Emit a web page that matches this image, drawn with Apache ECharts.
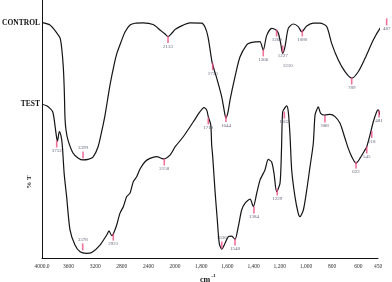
<!DOCTYPE html>
<html><head><meta charset="utf-8">
<script src="https://cdn.jsdelivr.net/npm/echarts@6/dist/echarts.min.js"></script>
<style>html,body{margin:0;padding:0;background:#fff}#c{width:392px;height:282px}</style>
</head><body><div id="c"></div>
<script>
// Wavenumber (cm-1) vs %T (arbitrary offset scale)
const controlHigh = [[4000,91.2],[3880,90.3],[3779,87.3],[3729,85.3],[3704,81.4],[3680,74.1],[3665,65.1],[3654,54.3],[3639,49.6],[3609,45.7],[3534,40.7],[3459,38.8],[3383,38.0],[3308,38.2],[3233,39.1],[3158,43.0],[3098,49.6],[3052,55.4],[2977,67.1],[2917,74.8],[2872,79.5],[2812,83.7],[2752,87.6],[2676,90.3],[2601,91.0],[2481,91.1],[2330,90.5],[2225,88.4],[2150,86.8],[2105,85.8],[2045,87.2],[2000,88.6]];
const controlLow = [[2000,88.6],[1962,89.7],[1885,91.1],[1796,91.0],[1771,89.5],[1748,85.7],[1720,76.7],[1712,74.8],[1682,69.8],[1643,62.4],[1618,55.4],[1611,54.3],[1595,56.6],[1580,61.2],[1542,70.2],[1504,77.9],[1453,82.6],[1427,83.4],[1376,83.8],[1351,83.9],[1326,80.6],[1300,86.2],[1262,89.0],[1229,88.4],[1211,87.1],[1193,83.2],[1178,79.3],[1160,81.9],[1135,89.0],[1097,90.7],[1059,89.7],[1033,87.7],[994,89.9],[944,91.0],[893,91.0],[842,89.7],[804,83.2],[753,76.7],[702,72.2],[651,69.7],[601,72.2],[549,77.4],[486,84.5],[435,89.0],[397,91.2],[371,93.5]];
const testHigh = [[4000,59.6],[3929,59.0],[3880,58.0],[3839,56.7],[3820,54.3],[3800,50.4],[3779,46.5],[3767,45.3],[3740,49.0],[3714,47.3],[3695,43.8],[3680,38.0],[3665,32.2],[3629,23.6],[3579,10.9],[3504,5.0],[3428,2.4],[3328,1.8],[3252,2.1],[3128,5.0],[3027,8.9],[2992,10.5],[2952,8.7],[2928,9.3],[2877,12.8],[2827,17.4],[2777,19.9],[2726,23.8],[2676,25.2],[2627,29.6],[2576,31.5],[2526,34.5],[2451,37.3],[2376,38.6],[2275,39.3],[2176,38.4],[2075,39.9],[2000,43.1]];
const testLow = [[2000,43.1],[1937,47.0],[1860,52.8],[1809,56.7],[1779,58.3],[1758,57.4],[1746,54.8],[1727,51.6],[1720,43.8],[1712,39.3],[1695,26.4],[1677,14.7],[1662,5.7],[1643,3.4],[1618,5.7],[1593,8.3],[1567,8.5],[1542,7.2],[1517,12.1],[1491,18.6],[1466,21.2],[1427,22.8],[1402,19.9],[1376,25.1],[1351,30.2],[1313,34.1],[1288,38.2],[1262,37.2],[1244,32.8],[1224,25.7],[1198,29.0],[1187,41.9],[1178,56.6],[1160,58.3],[1147,59.0],[1135,56.7],[1122,47.7],[1109,34.1],[1084,23.8],[1059,17.3],[1046,16.0],[1020,18.6],[994,26.4],[969,35.4],[944,44.5],[931,55.4],[918,57.4],[906,58.6],[888,56.1],[855,55.4],[817,55.7],[778,54.8],[740,52.2],[702,46.4],[677,42.5],[651,39.3],[618,36.7],[588,38.6],[549,41.9],[536,43.1],[511,47.7],[486,52.8],[460,56.7],[448,57.4],[435,55.4]];
// Peak markers: [position, %T, label]
const controlPeaks = [[3383,39.9,'3399'],[2105,84.7,'2133'],[1712,74.2,'1730'],[1611,54.1,'1644'],[1326,79.5,'1366'],[1224,87.2,'1260'],[1178,81.0,'1227'],[1178,81.0,'1210'],[1028,87.2,'1080'],[651,68.6,'789'],[384,91.5,'487']];
const testPeaks = [[3779,44.2,'3752'],[3388,4.3,'3378'],[2928,8.1,'2921'],[2161,37.2,'2158'],[1746,53.1,'1710'],[1643,5.0,'1636'],[1542,6.2,'1548'],[1397,18.6,'1384'],[1219,25.6,'1229'],[1165,55.4,'1162'],[855,53.9,'888'],[618,36.0,'622'],[536,41.9,'545'],[498,47.9,'518'],[442,55.8,'481']];
const highTicks = [4000,3600,3200,2800,2400,2000];
const lowTicks = [1800,1600,1400,1200,1000,800,600,450];
const seriesNames = ['CONTROL','TEST'];
const yTitle = '% T';

const labelsAbove = ['3399','3378','1636'];
const lineColor = '#141414', pink = '#ee4d80', lblColor = '#3b3b58';
const serif = '"Liberation Serif", "DejaVu Serif", serif';

function peakItems(list, high) {
  return list.filter(p => high ? p[0] >= 2000 : p[0] < 2000).map(p => ({
    value: [p[0], p[1]], name: p[2],
    symbolSize: p[2] === '1210' ? 0 : [1.6, 7],
    label: {position: labelsAbove.includes(p[2]) ? 'top' : 'bottom', offset: p[2] === '1210' ? [5, 13] : [0, 0]}
  }));
}
const allPeaks = controlPeaks.concat(testPeaks);

const chart = echarts.init(document.getElementById('c'), null, {renderer: 'canvas'});
const lineBase = {type: 'line', symbol: 'none', smooth: 0.25, clip: false, lineStyle: {color: lineColor, width: 1.2}, z: 3};
const scatterBase = {type: 'scatter', symbol: 'rect', clip: false, itemStyle: {color: pink}, z: 4,
  label: {show: true, formatter: '{b}', fontSize: 5, color: lblColor, distance: 1, fontFamily: serif}};
chart.setOption({
  animation: false,
  backgroundColor: '#fff',
  grid: [
    {left: 42, top: 0, width: 133, bottom: 24},
    {left: 175, top: 0, width: 203, bottom: 24}
  ],
  xAxis: [
    {type: 'value', gridIndex: 0, min: 2000, max: 4000, interval: 400, inverse: true,
     axisLine: {lineStyle: {color: '#111', width: 1}}, axisTick: {show: false}, splitLine: {show: false},
     axisLabel: {fontSize: 5.5, color: '#333', margin: 6, fontFamily: serif,
       customValues: highTicks,
       formatter: v => v === 4000 ? '4000.0' : String(v)}},
    {type: 'value', gridIndex: 1, min: 450, max: 2000, inverse: true,
     axisLine: {lineStyle: {color: '#111', width: 1}}, axisTick: {show: false}, splitLine: {show: false},
     axisLabel: {fontSize: 5.5, color: '#333', margin: 6, fontFamily: serif, customValues: lowTicks}}
  ],
  yAxis: [
    {type: 'value', gridIndex: 0, min: 0, max: 100, axisLine: {show: true, lineStyle: {color: '#111', width: 1}},
     axisTick: {show: false}, axisLabel: {show: false}, splitLine: {show: false}},
    {type: 'value', gridIndex: 1, min: 0, max: 100, show: false, splitLine: {show: false}}
  ],
  series: [
    Object.assign({}, lineBase, {name: seriesNames[0], xAxisIndex: 0, yAxisIndex: 0, data: controlHigh}),
    Object.assign({}, lineBase, {name: seriesNames[0], xAxisIndex: 1, yAxisIndex: 1, data: controlLow}),
    Object.assign({}, lineBase, {name: seriesNames[1], xAxisIndex: 0, yAxisIndex: 0, data: testHigh}),
    Object.assign({}, lineBase, {name: seriesNames[1], xAxisIndex: 1, yAxisIndex: 1, data: testLow}),
    Object.assign({}, scatterBase, {xAxisIndex: 0, yAxisIndex: 0, data: peakItems(allPeaks, true)}),
    Object.assign({}, scatterBase, {xAxisIndex: 1, yAxisIndex: 1, data: peakItems(allPeaks, false)})
  ],
  graphic: [
    {type: 'text', x: 40, y: 23, style: {text: seriesNames[0], font: 'bold 7.5px ' + serif, fill: '#111', textAlign: 'right', textVerticalAlign: 'middle', align: 'right', verticalAlign: 'middle'}},
    {type: 'text', x: 40, y: 104, style: {text: seriesNames[1], font: 'bold 7.5px ' + serif, fill: '#111', textAlign: 'right', textVerticalAlign: 'middle', align: 'right', verticalAlign: 'middle'}},
    {type: 'text', x: 29, y: 182, rotation: Math.PI / 2, style: {text: yTitle, font: 'bold 7px ' + serif, fill: '#222', textAlign: 'center', textVerticalAlign: 'middle', align: 'center', verticalAlign: 'middle'}},
    {type: 'text', x: 200, y: 273, style: {text: '{a|cm}{b|-1}', fill: '#111', textVerticalAlign: 'top', verticalAlign: 'top',
      rich: {a: {font: 'bold 8px ' + serif, fill: '#111', padding: [3, 1, 0, 0]}, b: {font: 'bold 5px ' + serif, fill: '#111', verticalAlign: 'top', padding: [0, 0, 4, 0]}}}}
  ]
});
</script></body></html>
